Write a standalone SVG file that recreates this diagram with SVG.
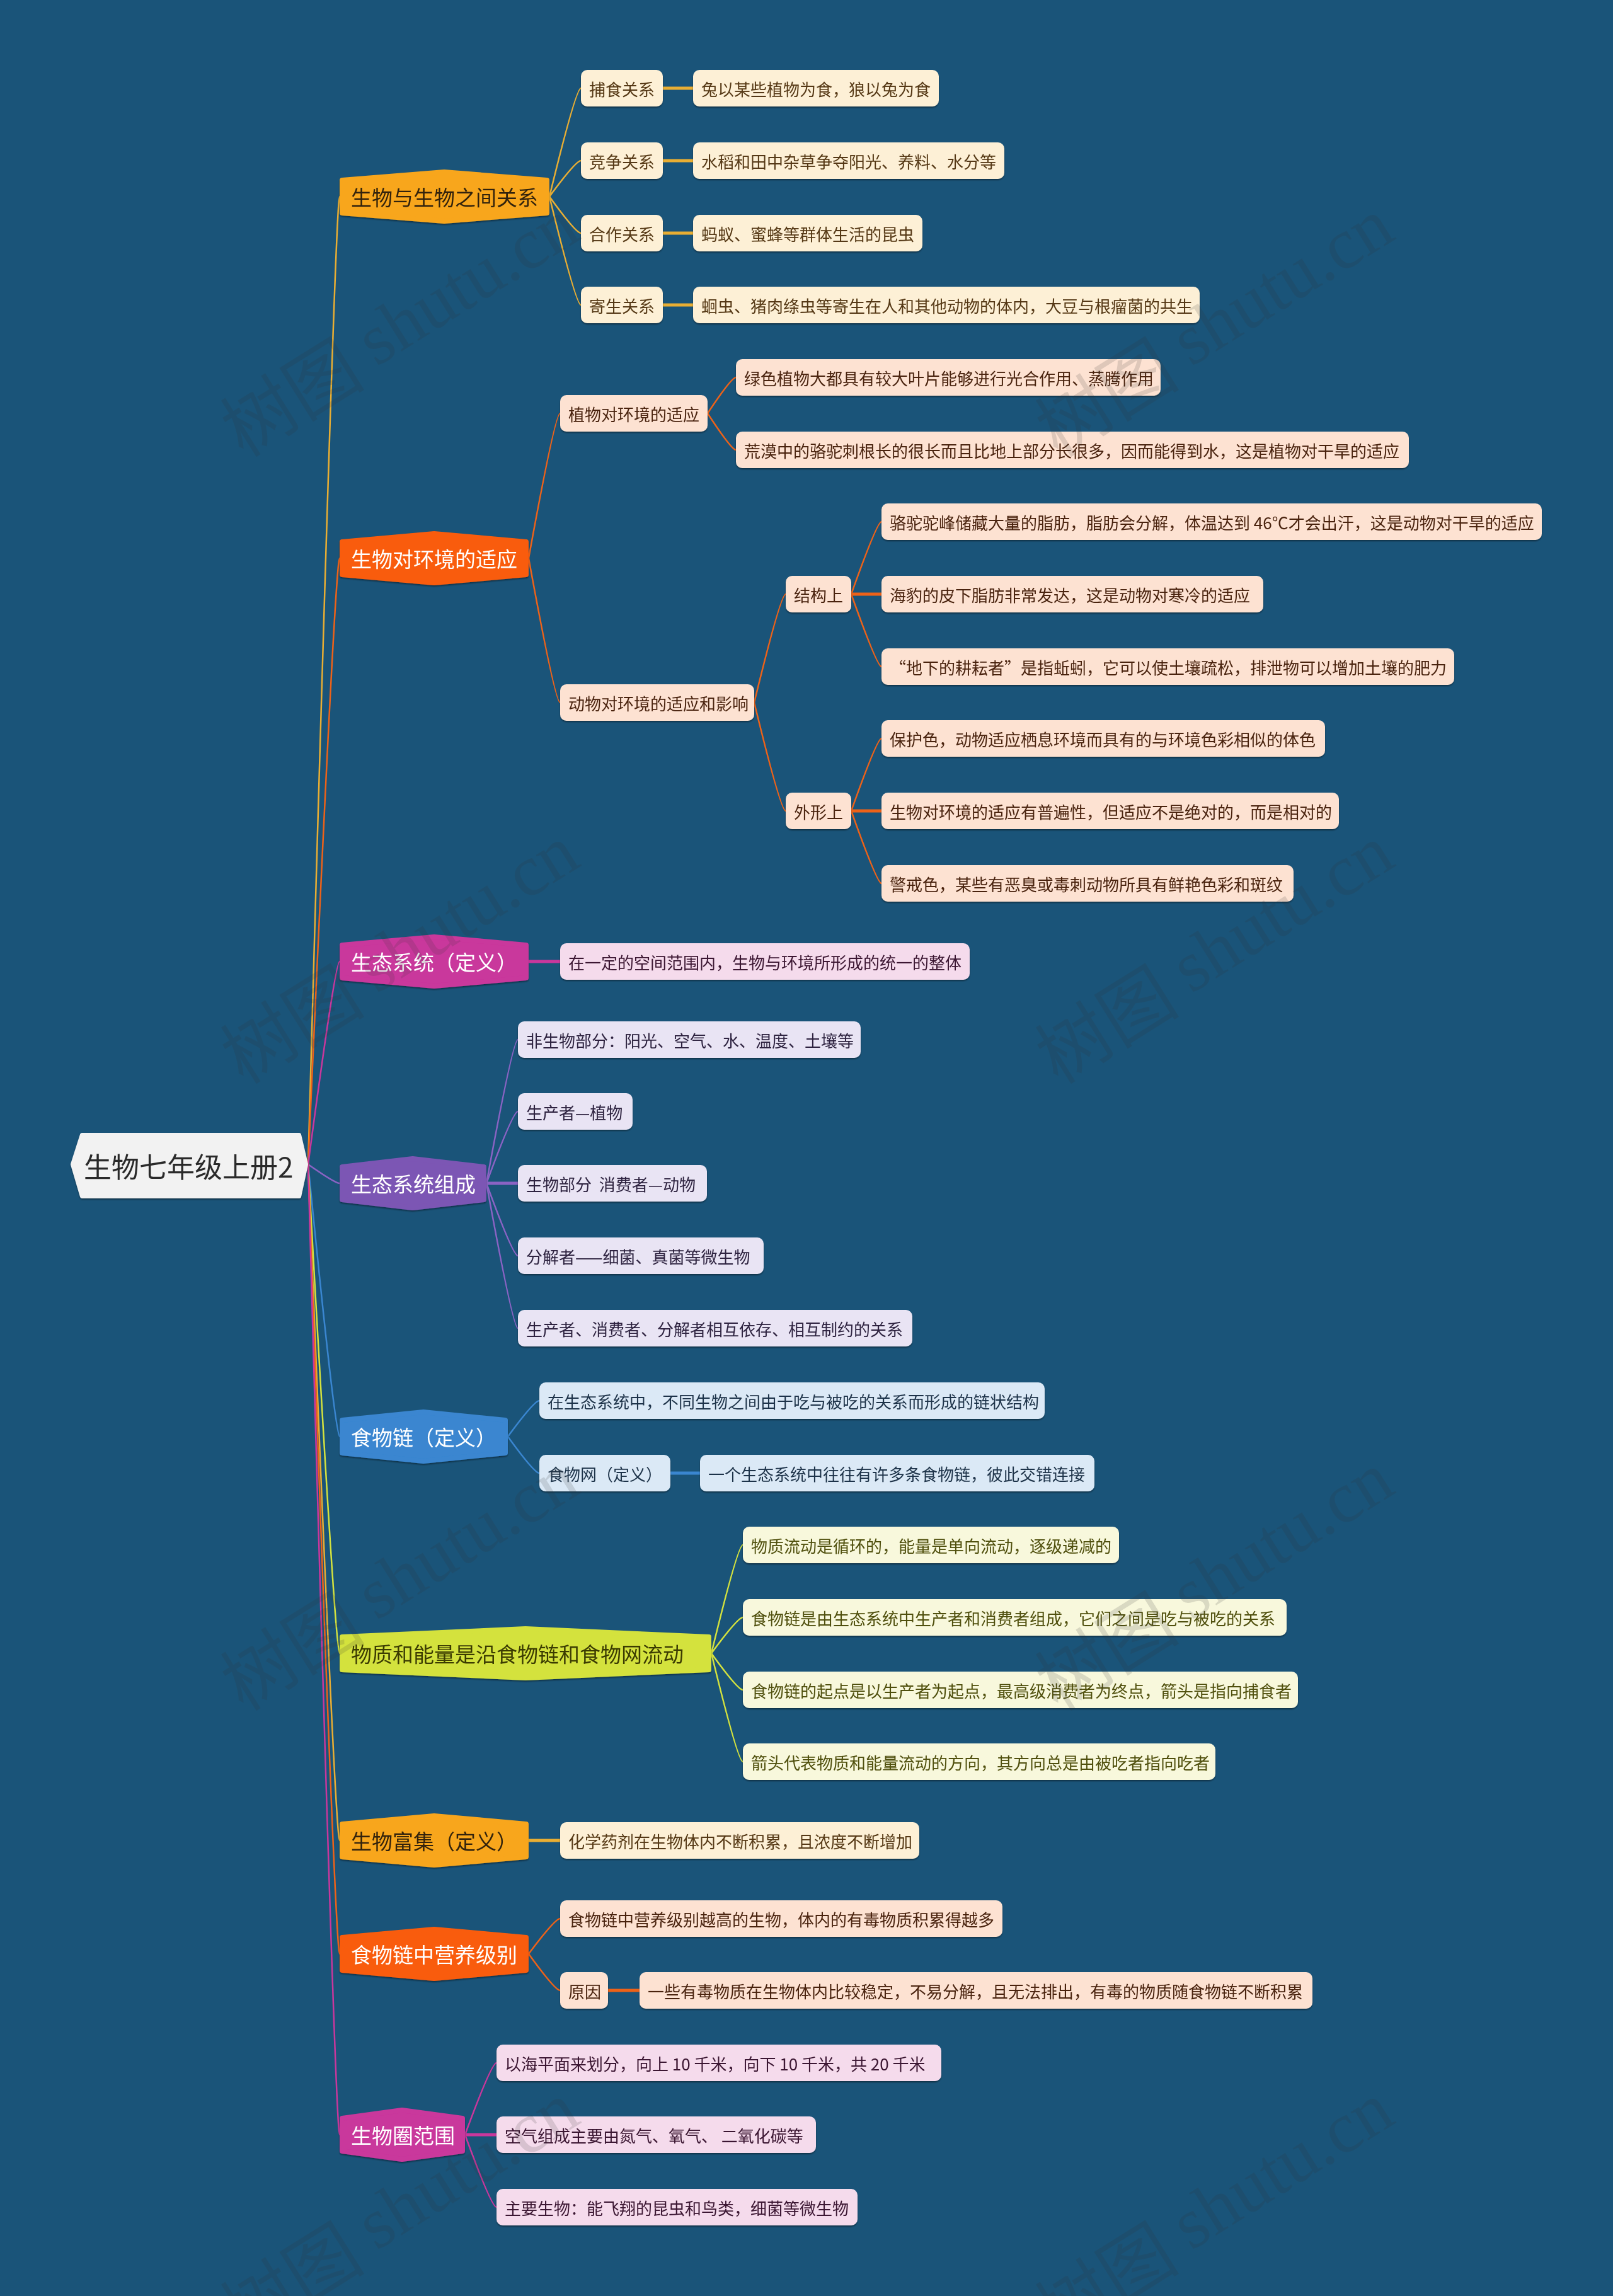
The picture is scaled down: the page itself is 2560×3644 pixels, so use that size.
<svg xmlns="http://www.w3.org/2000/svg" width="2560" height="3644" viewBox="0 0 2560 3644">
<defs>
<filter id="sh" x="-5%" y="-30%" width="110%" height="170%"><feDropShadow dx="0" dy="2" stdDeviation="1.2" flood-color="#000" flood-opacity="0.4"/></filter>
<style>
text{font-family:"Noto Sans CJK SC","Noto Sans",sans-serif;dominant-baseline:central}
.root{fill:#f2f2f2;stroke:#f2f2f2;stroke-width:6;stroke-linejoin:round}
.tp{stroke-width:8;stroke-linejoin:round}
.tt{font-size:33px}
.nt{font-size:26px}
.amber{fill:#f8a61c;stroke:#f8a61c}
.orange{fill:#f95c0b;stroke:#f95c0b}
.magenta{fill:#c9379c;stroke:#c9379c}
.purple{fill:#7c56b4;stroke:#7c56b4}
.blue{fill:#3a86d0;stroke:#3a86d0}
.lime{fill:#d4e23e;stroke:#d4e23e}
.c-amber{fill:#fdf0d6}.x-amber{fill:#553813}
.c-orange{fill:#fde2d2}.x-orange{fill:#4a2410}
.c-magenta{fill:#f5dbec}.x-magenta{fill:#3a1530}
.c-purple{fill:#e9e4f4}.x-purple{fill:#2e2440}
.c-blue{fill:#dbe9f6}.x-blue{fill:#1e3348}
.c-lime{fill:#f8f8dc}.x-lime{fill:#4f4f0c}
.wt{fill:#ffffff}.dk{fill:#33240c}
.ln{fill:none;stroke-width:2.5;stroke-linecap:round}
.lt{fill:none;stroke-width:5}
.s-amber{stroke:#e9ae33}.s-orange{stroke:#ee6218}.s-magenta{stroke:#c9379c}.s-purple{stroke:#8a63c4}.s-blue{stroke:#3a86d0}.s-lime{stroke:#d4e23e}
.wm{font-size:115px;fill:#333;opacity:0.15}
.wm tspan.l{font-family:"Liberation Serif",serif}
</style>
</defs>
<rect width="2560" height="3644" fill="#1a5479"/>

<g id="connectors">
<path class="ln s-amber" d="M489,1848 Q532,312 539,312"/>
<path class="ln s-orange" d="M489,1848 Q532,886 539,886"/>
<path class="ln s-magenta" d="M489,1848 Q532,1526 539,1526"/>
<path class="ln s-purple" d="M489,1848 Q532,1878 539,1878"/>
<path class="ln s-blue" d="M489,1848 Q532,2280 539,2280"/>
<path class="ln s-lime" d="M489,1848 Q532,2624 539,2624"/>
<path class="ln s-amber" d="M489,1848 Q532,2921 539,2921"/>
<path class="ln s-orange" d="M489,1848 Q532,3101 539,3101"/>
<path class="ln s-magenta" d="M489,1848 Q532,3388 539,3388"/>

<path class="ln s-amber" d="M872,312 Q914,140 922,140"/>
<path class="ln s-amber" d="M872,312 Q914,255 922,255"/>
<path class="ln s-amber" d="M872,312 Q914,370 922,370"/>
<path class="ln s-amber" d="M872,312 Q914,484 922,484"/>
<path class="lt s-amber" d="M1052,140 L1100,140"/>
<path class="lt s-amber" d="M1052,255 L1100,255"/>
<path class="lt s-amber" d="M1052,370 L1100,370"/>
<path class="lt s-amber" d="M1052,484 L1100,484"/>

<path class="ln s-orange" d="M839,886 Q881,656 889,656"/>
<path class="ln s-orange" d="M839,886 Q881,1115 889,1115"/>
<path class="ln s-orange" d="M1123,656 Q1161,599 1168,599"/>
<path class="ln s-orange" d="M1123,656 Q1161,714 1168,714"/>
<path class="ln s-orange" d="M1197,1115 Q1239,943 1247,943"/>
<path class="ln s-orange" d="M1197,1115 Q1239,1287 1247,1287"/>
<path class="ln s-orange" d="M1351,943 Q1392,828 1399,828"/>
<path class="lt s-orange" d="M1351,943 L1399,943"/>
<path class="ln s-orange" d="M1351,943 Q1392,1058 1399,1058"/>
<path class="ln s-orange" d="M1351,1287 Q1392,1172 1399,1172"/>
<path class="lt s-orange" d="M1351,1287 L1399,1287"/>
<path class="ln s-orange" d="M1351,1287 Q1392,1402 1399,1402"/>

<path class="lt s-magenta" d="M839,1526 L889,1526"/>

<path class="ln s-purple" d="M772,1878 Q814,1650 822,1650"/>
<path class="ln s-purple" d="M772,1878 Q814,1764 822,1764"/>
<path class="lt s-purple" d="M772,1878 L822,1878"/>
<path class="ln s-purple" d="M772,1878 Q814,1993 822,1993"/>
<path class="ln s-purple" d="M772,1878 Q814,2108 822,2108"/>

<path class="ln s-blue" d="M806,2280 Q848,2223 856,2223"/>
<path class="ln s-blue" d="M806,2280 Q848,2338 856,2338"/>
<path class="lt s-blue" d="M1064,2338 L1111,2338"/>

<path class="ln s-lime" d="M1129,2624 Q1171,2452 1179,2452"/>
<path class="ln s-lime" d="M1129,2624 Q1171,2567 1179,2567"/>
<path class="ln s-lime" d="M1129,2624 Q1171,2682 1179,2682"/>
<path class="ln s-lime" d="M1129,2624 Q1171,2796 1179,2796"/>

<path class="lt s-amber" d="M839,2921 L889,2921"/>

<path class="ln s-orange" d="M839,3101 Q881,3045 889,3045"/>
<path class="ln s-orange" d="M839,3101 Q881,3159 889,3159"/>
<path class="lt s-orange" d="M965,3159 L1015,3159"/>

<path class="ln s-magenta" d="M738,3388 Q780,3274 788,3274"/>
<path class="lt s-magenta" d="M738,3388 L788,3388"/>
<path class="ln s-magenta" d="M738,3388 Q780,3503 788,3503"/>
</g>

<g id="root" filter="url(#sh)">
<path class="root" d="M115,1848 L130,1801 L475,1801 L486,1848 L475,1899 L130,1899 Z"/>
<text x="133" y="1850" font-size="44" fill="#2a2a2a">生物七年级上册2</text>
</g>

<g id="t1" filter="url(#sh)"><path class="tp amber" d="M543,286 L705,273 L868,286 L868,338 L705,351 L543,338 Z"/><text class="tt dk" x="557" y="312">生物与生物之间关系</text></g>
<g id="t2" filter="url(#sh)"><path class="tp orange" d="M543,860 L689,847 L835,860 L835,912 L689,925 L543,912 Z"/><text class="tt wt" x="557" y="886">生物对环境的适应</text></g>
<g id="t3" filter="url(#sh)"><path class="tp magenta" d="M543,1500 L689,1487 L835,1500 L835,1552 L689,1565 L543,1552 Z"/><text class="tt wt" x="557" y="1526">生态系统（定义）</text></g>
<g id="t4" filter="url(#sh)"><path class="tp purple" d="M543,1852 L655,1839 L768,1852 L768,1904 L655,1917 L543,1904 Z"/><text class="tt wt" x="557" y="1878">生态系统组成</text></g>
<g id="t5" filter="url(#sh)"><path class="tp blue" d="M543,2254 L672,2241 L802,2254 L802,2306 L672,2319 L543,2306 Z"/><text class="tt wt" x="557" y="2280">食物链（定义）</text></g>
<g id="t6" filter="url(#sh)"><path class="tp lime" d="M543,2598 L834,2585 L1125,2598 L1125,2650 L834,2663 L543,2650 Z"/><text class="tt" fill="#3a3a05" x="557" y="2624">物质和能量是沿食物链和食物网流动</text></g>
<g id="t7" filter="url(#sh)"><path class="tp amber" d="M543,2895 L689,2882 L835,2895 L835,2947 L689,2960 L543,2947 Z"/><text class="tt dk" x="557" y="2921">生物富集（定义）</text></g>
<g id="t8" filter="url(#sh)"><path class="tp orange" d="M543,3075 L689,3062 L835,3075 L835,3127 L689,3140 L543,3127 Z"/><text class="tt wt" x="557" y="3101">食物链中营养级别</text></g>
<g id="t9" filter="url(#sh)"><path class="tp magenta" d="M543,3362 L638,3349 L734,3362 L734,3414 L638,3427 L543,3414 Z"/><text class="tt wt" x="557" y="3388">生物圈范围</text></g>

<g id="n1a" filter="url(#sh)"><rect class="c-amber" x="922" y="111" width="130" height="58" rx="10"/><text class="nt x-amber" x="935" y="140">捕食关系</text></g>
<g id="n1a1" filter="url(#sh)"><rect class="c-amber" x="1100" y="111" width="390" height="58" rx="10"/><text class="nt x-amber" x="1113" y="140">兔以某些植物为食，狼以兔为食</text></g>
<g id="n1b" filter="url(#sh)"><rect class="c-amber" x="922" y="226" width="130" height="58" rx="10"/><text class="nt x-amber" x="935" y="255">竞争关系</text></g>
<g id="n1b1" filter="url(#sh)"><rect class="c-amber" x="1100" y="226" width="494" height="58" rx="10"/><text class="nt x-amber" x="1113" y="255">水稻和田中杂草争夺阳光、养料、水分等</text></g>
<g id="n1c" filter="url(#sh)"><rect class="c-amber" x="922" y="341" width="130" height="58" rx="10"/><text class="nt x-amber" x="935" y="370">合作关系</text></g>
<g id="n1c1" filter="url(#sh)"><rect class="c-amber" x="1100" y="341" width="364" height="58" rx="10"/><text class="nt x-amber" x="1113" y="370">蚂蚁、蜜蜂等群体生活的昆虫</text></g>
<g id="n1d" filter="url(#sh)"><rect class="c-amber" x="922" y="455" width="130" height="58" rx="10"/><text class="nt x-amber" x="935" y="484">寄生关系</text></g>
<g id="n1d1" filter="url(#sh)"><rect class="c-amber" x="1100" y="455" width="804" height="58" rx="10"/><text class="nt x-amber" x="1113" y="484">蛔虫、猪肉绦虫等寄生在人和其他动物的体内，大豆与根瘤菌的共生</text></g>

<g id="n2a" filter="url(#sh)"><rect class="c-orange" x="889" y="627" width="234" height="58" rx="10"/><text class="nt x-orange" x="902" y="656">植物对环境的适应</text></g>
<g id="n2a1" filter="url(#sh)"><rect class="c-orange" x="1168" y="570" width="674" height="58" rx="10"/><text class="nt x-orange" x="1181" y="599">绿色植物大都具有较大叶片能够进行光合作用、蒸腾作用</text></g>
<g id="n2a2" filter="url(#sh)"><rect class="c-orange" x="1168" y="685" width="1068" height="58" rx="10"/><text class="nt x-orange" x="1181" y="714">荒漠中的骆驼刺根长的很长而且比地上部分长很多，因而能得到水，这是植物对干旱的适应</text></g>
<g id="n2b" filter="url(#sh)"><rect class="c-orange" x="889" y="1086" width="308" height="58" rx="10"/><text class="nt x-orange" x="902" y="1115">动物对环境的适应和影响</text></g>
<g id="n2b1" filter="url(#sh)"><rect class="c-orange" x="1247" y="914" width="104" height="58" rx="10"/><text class="nt x-orange" x="1260" y="943">结构上</text></g>
<g id="n2b1a" filter="url(#sh)"><rect class="c-orange" x="1399" y="799" width="1048" height="58" rx="10"/><text class="nt x-orange" x="1412" y="828">骆驼驼峰储藏大量的脂肪，脂肪会分解，体温达到 46℃才会出汗，这是动物对干旱的适应</text></g>
<g id="n2b1b" filter="url(#sh)"><rect class="c-orange" x="1399" y="914" width="606" height="58" rx="10"/><text class="nt x-orange" x="1412" y="943">海豹的皮下脂肪非常发达，这是动物对寒冷的适应</text></g>
<g id="n2b1c" filter="url(#sh)"><rect class="c-orange" x="1399" y="1029" width="909" height="58" rx="10"/><text class="nt x-orange" x="1412" y="1058">“地下的耕耘者”是指蚯蚓，它可以使土壤疏松，排泄物可以增加土壤的肥力</text></g>
<g id="n2b2" filter="url(#sh)"><rect class="c-orange" x="1247" y="1258" width="104" height="58" rx="10"/><text class="nt x-orange" x="1260" y="1287">外形上</text></g>
<g id="n2b2a" filter="url(#sh)"><rect class="c-orange" x="1399" y="1143" width="704" height="58" rx="10"/><text class="nt x-orange" x="1412" y="1172">保护色，动物适应栖息环境而具有的与环境色彩相似的体色</text></g>
<g id="n2b2b" filter="url(#sh)"><rect class="c-orange" x="1399" y="1258" width="726" height="58" rx="10"/><text class="nt x-orange" x="1412" y="1287">生物对环境的适应有普遍性，但适应不是绝对的，而是相对的</text></g>
<g id="n2b2c" filter="url(#sh)"><rect class="c-orange" x="1399" y="1373" width="654" height="58" rx="10"/><text class="nt x-orange" x="1412" y="1402">警戒色，某些有恶臭或毒刺动物所具有鲜艳色彩和斑纹</text></g>

<g id="n3a" filter="url(#sh)"><rect class="c-magenta" x="889" y="1497" width="650" height="58" rx="10"/><text class="nt x-magenta" x="902" y="1526">在一定的空间范围内，生物与环境所形成的统一的整体</text></g>

<g id="n4a" filter="url(#sh)"><rect class="c-purple" x="822" y="1621" width="544" height="58" rx="10"/><text class="nt x-purple" x="835" y="1650">非生物部分：阳光、空气、水、温度、土壤等</text></g>
<g id="n4b" filter="url(#sh)"><rect class="c-purple" x="822" y="1735" width="182" height="58" rx="10"/><text class="nt x-purple" x="835" y="1764">生产者—植物</text></g>
<g id="n4c" filter="url(#sh)"><rect class="c-purple" x="822" y="1849" width="300" height="58" rx="10"/><text class="nt x-purple" x="835" y="1878" xml:space="preserve">生物部分  消费者—动物</text></g>
<g id="n4d" filter="url(#sh)"><rect class="c-purple" x="822" y="1964" width="390" height="58" rx="10"/><text class="nt x-purple" x="835" y="1993">分解者——细菌、真菌等微生物</text></g>
<g id="n4e" filter="url(#sh)"><rect class="c-purple" x="822" y="2079" width="626" height="58" rx="10"/><text class="nt x-purple" x="835" y="2108">生产者、消费者、分解者相互依存、相互制约的关系</text></g>

<g id="n5a" filter="url(#sh)"><rect class="c-blue" x="856" y="2194" width="802" height="58" rx="10"/><text class="nt x-blue" x="869" y="2223">在生态系统中，不同生物之间由于吃与被吃的关系而形成的链状结构</text></g>
<g id="n5b" filter="url(#sh)"><rect class="c-blue" x="856" y="2309" width="208" height="58" rx="10"/><text class="nt x-blue" x="869" y="2338">食物网（定义）</text></g>
<g id="n5b1" filter="url(#sh)"><rect class="c-blue" x="1111" y="2309" width="626" height="58" rx="10"/><text class="nt x-blue" x="1124" y="2338">一个生态系统中往往有许多条食物链，彼此交错连接</text></g>

<g id="n6a" filter="url(#sh)"><rect class="c-lime" x="1179" y="2423" width="597" height="58" rx="10"/><text class="nt x-lime" x="1192" y="2452">物质流动是循环的，能量是单向流动，逐级递减的</text></g>
<g id="n6b" filter="url(#sh)"><rect class="c-lime" x="1179" y="2538" width="863" height="58" rx="10"/><text class="nt x-lime" x="1192" y="2567">食物链是由生态系统中生产者和消费者组成，它们之间是吃与被吃的关系</text></g>
<g id="n6c" filter="url(#sh)"><rect class="c-lime" x="1179" y="2653" width="881" height="58" rx="10"/><text class="nt x-lime" x="1192" y="2682">食物链的起点是以生产者为起点，最高级消费者为终点，箭头是指向捕食者</text></g>
<g id="n6d" filter="url(#sh)"><rect class="c-lime" x="1179" y="2767" width="750" height="58" rx="10"/><text class="nt x-lime" x="1192" y="2796">箭头代表物质和能量流动的方向，其方向总是由被吃者指向吃者</text></g>

<g id="n7a" filter="url(#sh)"><rect class="c-amber" x="889" y="2892" width="570" height="58" rx="10"/><text class="nt x-amber" x="902" y="2921">化学药剂在生物体内不断积累，且浓度不断增加</text></g>

<g id="n8a" filter="url(#sh)"><rect class="c-orange" x="889" y="3016" width="702" height="58" rx="10"/><text class="nt x-orange" x="902" y="3045">食物链中营养级别越高的生物，体内的有毒物质积累得越多</text></g>
<g id="n8b" filter="url(#sh)"><rect class="c-orange" x="889" y="3130" width="76" height="58" rx="10"/><text class="nt x-orange" x="902" y="3159">原因</text></g>
<g id="n8b1" filter="url(#sh)"><rect class="c-orange" x="1015" y="3130" width="1068" height="58" rx="10"/><text class="nt x-orange" x="1028" y="3159">一些有毒物质在生物体内比较稳定，不易分解，且无法排出，有毒的物质随食物链不断积累</text></g>

<g id="n9a" filter="url(#sh)"><rect class="c-magenta" x="788" y="3245" width="706" height="58" rx="10"/><text class="nt x-magenta" x="801" y="3274">以海平面来划分，向上 10 千米，向下 10 千米，共 20 千米</text></g>
<g id="n9b" filter="url(#sh)"><rect class="c-magenta" x="788" y="3359" width="507" height="58" rx="10"/><text class="nt x-magenta" x="801" y="3388" xml:space="preserve">空气组成主要由氮气、氧气、 二氧化碳等</text></g>
<g id="n9c" filter="url(#sh)"><rect class="c-magenta" x="788" y="3474" width="573" height="58" rx="10"/><text class="nt x-magenta" x="801" y="3503">主要生物：能飞翔的昆虫和鸟类，细菌等微生物</text></g>

<g id="watermarks">
<text class="wm" text-anchor="middle" transform="translate(632,515) rotate(-32)">树图 <tspan class="l">shutu.cn</tspan></text>
<text class="wm" text-anchor="middle" transform="translate(1925,515) rotate(-32)">树图 <tspan class="l">shutu.cn</tspan></text>
<text class="wm" text-anchor="middle" transform="translate(632,1510) rotate(-32)">树图 <tspan class="l">shutu.cn</tspan></text>
<text class="wm" text-anchor="middle" transform="translate(1925,1510) rotate(-32)">树图 <tspan class="l">shutu.cn</tspan></text>
<text class="wm" text-anchor="middle" transform="translate(632,2505) rotate(-32)">树图 <tspan class="l">shutu.cn</tspan></text>
<text class="wm" text-anchor="middle" transform="translate(1925,2505) rotate(-32)">树图 <tspan class="l">shutu.cn</tspan></text>
<text class="wm" text-anchor="middle" transform="translate(632,3505) rotate(-32)">树图 <tspan class="l">shutu.cn</tspan></text>
<text class="wm" text-anchor="middle" transform="translate(1925,3505) rotate(-32)">树图 <tspan class="l">shutu.cn</tspan></text>
</g>
</svg>
